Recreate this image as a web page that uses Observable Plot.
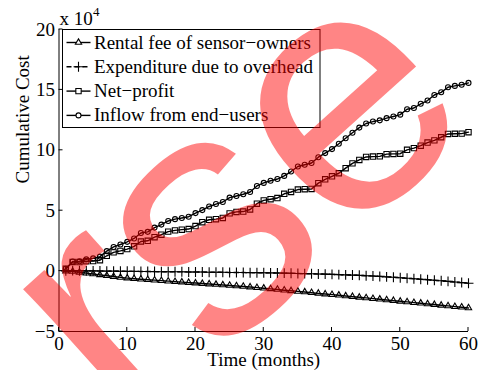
<!DOCTYPE html>
<html><head><meta charset="utf-8">
<script src="https://cdn.jsdelivr.net/npm/d3@7"></script>
<script src="https://cdn.jsdelivr.net/npm/@observablehq/plot@0.6"></script>
<style>body{margin:0;background:#fff}#chart{width:479px;height:370px}
#chart svg text{font-family:"Liberation Serif","Times New Roman",Times,"DejaVu Serif",serif}
#chart svg text.wm{font-family:"Liberation Sans",Arial,Helvetica,sans-serif}</style>
</head><body><div id="chart"></div>
<script>
// ---- data (values in units of 10^4) ----
const months = [1,2,3,4,5,6,7,8,9,10,11,12,13,14,15,16,17,18,19,20,21,22,23,24,25,26,27,28,29,30,31,32,33,34,35,36,37,38,39,40,41,42,43,44,45,46,47,48,49,50,51,52,53,54,55,56,57,58,59,60];
const rentalFee = [0.0,-0.03,-0.1,-0.17,-0.24,-0.31,-0.38,-0.45,-0.52,-0.58,-0.63,-0.67,-0.71,-0.75,-0.79,-0.83,-0.87,-0.91,-0.95,-0.99,-1.03,-1.07,-1.11,-1.15,-1.19,-1.23,-1.27,-1.32,-1.37,-1.42,-1.47,-1.52,-1.58,-1.63,-1.68,-1.73,-1.79,-1.84,-1.9,-1.95,-2.0,-2.06,-2.11,-2.17,-2.22,-2.28,-2.33,-2.39,-2.44,-2.5,-2.55,-2.61,-2.66,-2.72,-2.77,-2.83,-2.88,-2.94,-2.99,-3.05];
const overhead = [0.02,0.04,0.03,0.02,0.02,0.01,0.0,0.0,-0.01,-0.02,-0.02,-0.03,-0.03,-0.04,-0.05,-0.05,-0.06,-0.06,-0.07,-0.08,-0.08,-0.09,-0.1,-0.1,-0.11,-0.11,-0.12,-0.13,-0.13,-0.14,-0.15,-0.16,-0.17,-0.18,-0.2,-0.21,-0.22,-0.24,-0.25,-0.27,-0.29,-0.31,-0.33,-0.35,-0.38,-0.41,-0.44,-0.48,-0.51,-0.55,-0.59,-0.63,-0.67,-0.71,-0.76,-0.8,-0.85,-0.9,-0.95,-1.0];
const netProfit = [0.2,0.76,0.75,0.82,0.83,0.9,1.27,1.55,1.67,1.82,2.05,2.45,2.51,2.81,3.01,3.27,3.37,3.43,3.48,3.73,4.05,4.25,4.3,4.4,4.78,4.9,4.93,5.1,5.58,5.85,5.95,6.05,6.4,6.55,6.75,6.78,6.8,7.28,7.6,7.85,8.1,8.52,8.92,9.2,9.45,9.48,9.5,9.68,9.7,9.72,10.04,10.18,10.38,10.64,10.82,11.08,11.35,11.37,11.38,11.5];
const inflow = [0.2,0.8,0.82,0.97,1.05,1.2,1.65,2.0,2.2,2.42,2.7,3.15,3.25,3.6,3.85,4.15,4.3,4.4,4.5,4.8,5.05,5.35,5.55,5.72,6.08,6.22,6.36,6.55,7.05,7.3,7.48,7.62,7.88,8.24,8.66,8.8,8.95,9.43,9.77,10.1,10.54,11.0,11.45,11.88,12.22,12.38,12.48,12.66,12.8,12.95,13.4,13.5,13.85,14.12,14.58,14.8,15.22,15.33,15.43,15.58];
const seriesNames = ["Rental fee of sensor\u2212owners","Expenditure due to overhead","Net\u2212profit","Inflow from end\u2212users"];
const xTicks = [0,10,20,30,40,50,60];
const yTicks = [-5,0,5,10,15,20];
const xLabel = "Time (months)";
const yLabel = "Cumulative Cost";
const multiplierBase = "x 10";
const multiplierExp = "4";
const watermark = "rse";

// ---- styles ----
const styles = [
  {symbol: "triangle2", r: 3.0, dash: null},
  {symbol: "plus", r: 3.3, dash: "5,3"},
  {symbol: "square2", r: 3.4, dash: null},
  {symbol: "circle", r: 2.5, dash: null}
];
const seriesValues = [rentalFee, overhead, netProfit, inflow];
const series = seriesNames.map((name, k) => ({
  name, ...styles[k],
  rows: months.map((m, i) => ({month: m, value: seriesValues[k][i]}))
}));

const plot = Plot.plot({
  width: 479, height: 370,
  marginLeft: 58.5, marginRight: 11, marginTop: 29, marginBottom: 39,
  style: {fontSize: "19px", background: "white", color: "black", overflow: "visible"},
  x: {domain: [0, 60]},
  y: {domain: [-5, 20]},
  marks: [
    ...series.map(s => Plot.line(s.rows, {x: "month", y: "value", stroke: "black", strokeWidth: 1.4, strokeDasharray: s.dash})),
    ...series.map(s => Plot.dot(s.rows, {x: "month", y: "value", symbol: s.symbol, r: s.r, stroke: "black", strokeWidth: 1.1, fill: "none"})),
    Plot.ruleX([0], {stroke: "black", strokeWidth: 1}),
    Plot.ruleY([-5], {stroke: "black", strokeWidth: 1}),
    Plot.axisX(xTicks, {tickSize: 0, tickPadding: 5, fontSize: 19, label: null}),
    Plot.axisY(yTicks, {tickSize: 0, tickPadding: 4, fontSize: 19, label: null}),
    Plot.text([xLabel], {frameAnchor: "bottom", dy: 28.5, lineAnchor: "middle", fontSize: 19}),
    Plot.text([yLabel], {frameAnchor: "left", rotate: -90, dx: -36, dy: 3, lineAnchor: "middle", fontSize: 19}),
    Plot.text([multiplierBase], {frameAnchor: "top-left", textAnchor: "start", lineAnchor: "bottom", dx: 0.5, dy: -5, fontSize: 19}),
    Plot.text([multiplierExp], {frameAnchor: "top-left", textAnchor: "start", lineAnchor: "bottom", dx: 34, dy: -14, fontSize: 13})
  ]
});

const svg = d3.select(plot);
const sx = plot.scale("x"), sy = plot.scale("y");
// inward ticks
const tg = svg.append("g").attr("stroke", "black").attr("stroke-width", 1);
tg.selectAll("line.xt").data(xTicks).join("line").attr("class", "xt")
  .attr("x1", d => sx.apply(d)).attr("x2", d => sx.apply(d))
  .attr("y1", sy.apply(-5)).attr("y2", sy.apply(-5) - 4);
tg.selectAll("line.yt").data(yTicks).join("line").attr("class", "yt")
  .attr("y1", d => sy.apply(d)).attr("y2", d => sy.apply(d))
  .attr("x1", sx.apply(0)).attr("x2", sx.apply(0) + 4);

// legend
const lg = svg.append("g");
const lx = 62.5, ly = 29.5, lw = 257.5, lh = 98, rowH = 24.3;
lg.append("rect").attr("x", lx).attr("y", ly).attr("width", lw).attr("height", lh)
  .attr("fill", "white").attr("stroke", "black").attr("stroke-width", 1);
series.forEach((s, k) => {
  const cy = ly + 13 + k * rowH;
  lg.append("line").attr("x1", lx + 4).attr("x2", lx + 28).attr("y1", cy).attr("y2", cy)
    .attr("stroke", "black").attr("stroke-width", 1.4).attr("stroke-dasharray", s.dash);
  const symType = {triangle2: d3.symbolTriangle2, plus: d3.symbolPlus, square2: d3.symbolSquare2, circle: d3.symbolCircle}[s.symbol];
  lg.append("path").attr("d", d3.symbol(symType, Math.PI * s.r * s.r)())
    .attr("transform", `translate(${lx + 16},${cy})`)
    .attr("fill", "white").attr("stroke", "black").attr("stroke-width", 1.1);
  lg.append("text").text(s.name).attr("x", lx + 31.5).attr("y", cy + 6)
    .attr("text-anchor", "start").attr("font-size", 19).attr("fill", "black");
});

// watermark
svg.append("text").attr("class", "wm").text(watermark)
  .attr("text-anchor", "start")
  .attr("transform", "translate(128,440) rotate(-42)")
  .attr("font-size", 345)
  .attr("fill", "red").attr("fill-opacity", 0.48);

document.getElementById("chart").appendChild(plot);
</script></body></html>
